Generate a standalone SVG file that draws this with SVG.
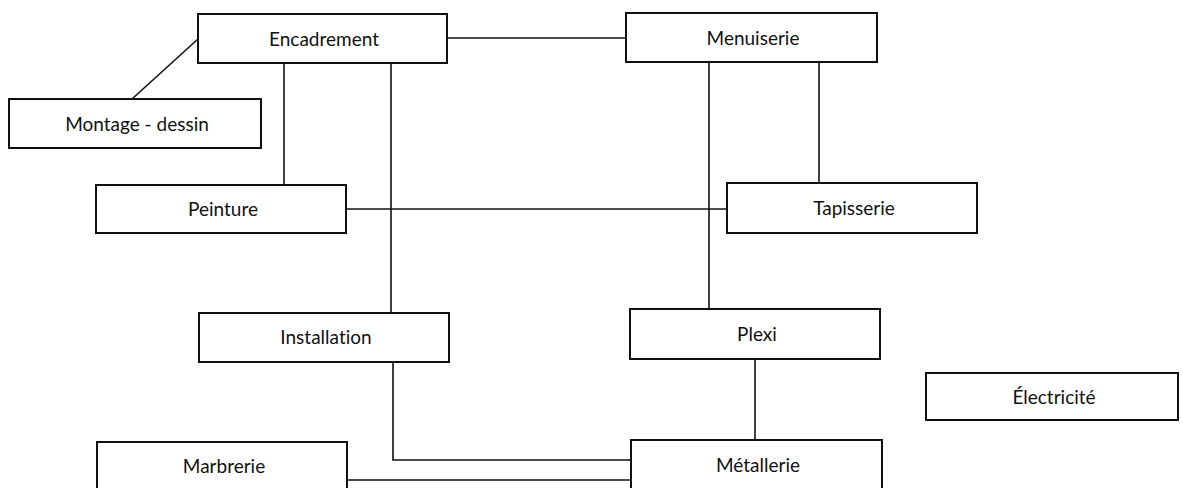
<svg xmlns="http://www.w3.org/2000/svg" width="1183" height="488" viewBox="0 0 1183 488">
<style>
.box{fill:#fff;stroke:#111;stroke-width:2}
.lbl{font-family:Lato,"Liberation Sans",sans-serif;font-size:19px;fill:#111;text-anchor:middle;font-variant-ligatures:none}
.con{fill:none;stroke:#111;stroke-width:1.6}
</style>
<rect width="1183" height="488" fill="#fff"/>
<g id="connectors">
<path class="con" d="M447 38 H626"/>
<path class="con" d="M198 39 L132 99"/>
<path class="con" d="M284 63 V185"/>
<path class="con" d="M391 63 V313"/>
<path class="con" d="M709 62 V309"/>
<path class="con" d="M819 62 V183"/>
<path class="con" d="M346 209 H727"/>
<path class="con" d="M393 362 V460 H631"/>
<path class="con" d="M347 480 H631"/>
<path class="con" d="M755 359 V440"/>
</g>
<g id="encadrement"><rect class="box" x="198" y="14" width="249" height="49"/><text class="lbl" x="324" y="46">Encadrement</text></g>
<g id="montage"><rect class="box" x="9" y="99" width="252" height="49"/><text class="lbl" x="137" y="131">Montage - dessin</text></g>
<g id="menuiserie"><rect class="box" x="626" y="13" width="251" height="49"/><text class="lbl" x="753" y="45">Menuiserie</text></g>
<g id="peinture"><rect class="box" x="96" y="185" width="250" height="48"/><text class="lbl" x="223" y="216">Peinture</text></g>
<g id="tapisserie"><rect class="box" x="727" y="183" width="250" height="50"/><text class="lbl" x="854" y="215">Tapisserie</text></g>
<g id="installation"><rect class="box" x="199" y="313" width="250" height="49"/><text class="lbl" x="326" y="344">Installation</text></g>
<g id="plexi"><rect class="box" x="630" y="309" width="250" height="50"/><text class="lbl" x="757" y="341">Plexi</text></g>
<g id="electricite"><rect class="box" x="926" y="373" width="252" height="47"/><text class="lbl" x="1054" y="404">Électricité</text></g>
<g id="marbrerie"><rect class="box" x="97" y="442" width="250" height="50"/><text class="lbl" x="224" y="473">Marbrerie</text></g>
<g id="metallerie"><rect class="box" x="631" y="440" width="251" height="50"/><text class="lbl" x="758" y="472">Métallerie</text></g>
</svg>
